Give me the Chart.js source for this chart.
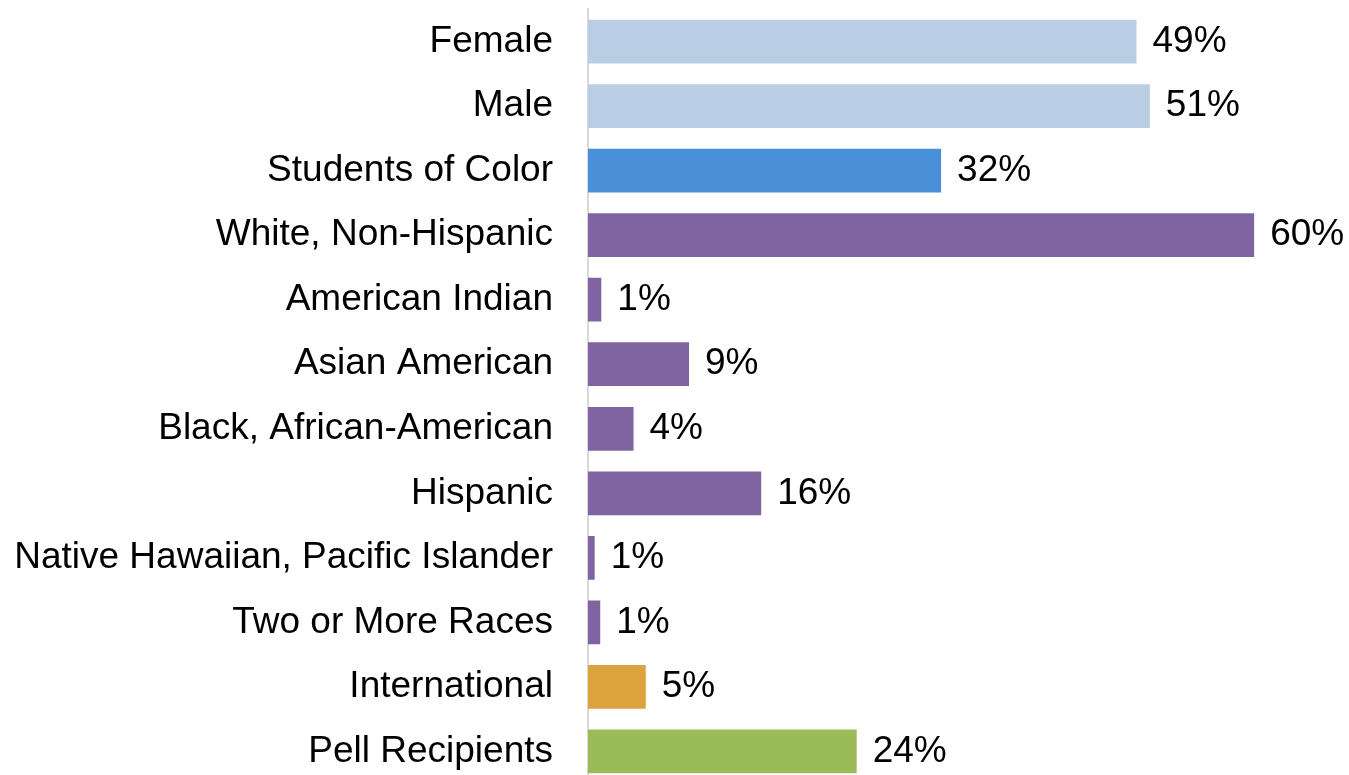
<!DOCTYPE html>
<html>
<head>
<meta charset="utf-8">
<script src="https://cdn.jsdelivr.net/npm/chart.js@4/dist/chart.umd.min.js"></script>
<style>
  html, body { margin: 0; padding: 0; background: #fff; overflow: hidden; }
  #wrap { position: relative; width: 1349px; height: 793px; }
</style>
</head>
<body>
<div id="wrap"><canvas id="chart"></canvas></div>
<script>
// categories, top to bottom
const categories = [
	'Female',
	'Male',
	'Students of Color',
	'White, Non-Hispanic',
	'American Indian',
	'Asian American',
	'Black, African-American',
	'Hispanic',
	'Native Hawaiian, Pacific Islander',
	'Two or More Races',
	'International',
	'Pell Recipients',
];

// share of students, percent (bar lengths)
const shares = [49.4, 50.6, 31.8, 60.0, 1.2, 9.1, 4.1, 15.6, 0.6, 1.1, 5.2, 24.2];

// one colour per bar
const barColors = [
	'#b9cde5', '#b9cde5',
	'#4a90d9',
	'#8064a2', '#8064a2', '#8064a2', '#8064a2', '#8064a2', '#8064a2', '#8064a2',
	'#dca23b',
	'#9bbb59',
];

const FONT = '"Liberation Sans", Arial, Helvetica, sans-serif';

// percent label to the right of each bar
const valueLabels = {
	id: 'valueLabels',
	afterDatasetsDraw(chart) {
		const ctx = chart.ctx;
		const meta = chart.getDatasetMeta(0);
		ctx.save();
		ctx.font = '37px ' + FONT;
		ctx.fillStyle = '#000';
		ctx.textAlign = 'left';
		ctx.textBaseline = 'middle';
		meta.data.forEach(function(bar, i) {
			const v = chart.data.datasets[0].data[i];
			ctx.fillText(Math.round(v) + '%', bar.x + 16, bar.y);
		});
		ctx.restore();
	},
};

new Chart(document.getElementById('chart'), {
	type: 'bar',
	data: {
		labels: categories,
		datasets: [{
			data: shares,
			backgroundColor: barColors,
			borderWidth: 0,
			barPercentage: 0.678,
			categoryPercentage: 1,
		}],
	},
	options: {
		indexAxis: 'y',
		responsive: true,
		maintainAspectRatio: false,
		animation: false,
		layout: {
			padding: { top: 0, right: 6, bottom: 0, left: 0 },
		},
		plugins: {
			legend: { display: false },
			tooltip: { enabled: false },
		},
		scales: {
			x: {
				display: false,
				min: 0,
				max: 68,
			},
			y: {
				afterFit(scale) {
					scale.width = 588;
				},
				grid: {
					display: true,
					color: 'transparent',
					drawOnChartArea: false,
					drawTicks: true,
					tickLength: 35,
				},
				border: { display: true, color: '#d9d9d9', width: 2 },
				ticks: {
					color: '#000',
					padding: 0,
					font: { family: FONT, size: 37, lineHeight: 0.5 },
				},
			},
		},
	},
	plugins: [valueLabels],
});
</script>
</body>
</html>
